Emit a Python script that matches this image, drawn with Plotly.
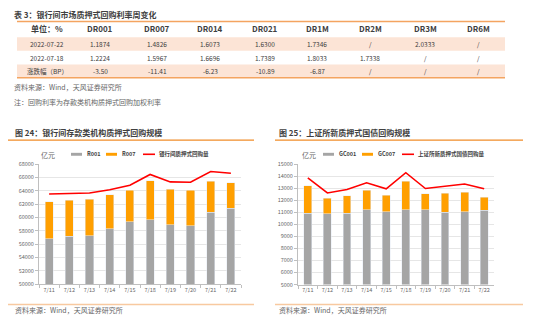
import plotly.graph_objects as go

W, H = 550, 332
FONT = "Noto Sans CJK SC"

# ---------------- table data ----------------
table_title = "表 3：银行间市场质押式回购利率周变化"
table_header = ["单位：%", "DR001", "DR007", "DR014", "DR021", "DR1M", "DR2M", "DR3M", "DR6M"]
row_0722 = ["2022-07-22", "1.1874", "1.4826", "1.6073", "1.6300", "1.7346", "/", "2.0333", "/"]
row_0718 = ["2022-07-18", "1.2224", "1.5967", "1.6696", "1.7389", "1.8033", "1.7338", "/", "/"]
row_change = ["涨跌幅（BP）", "-3.50", "-11.41", "-6.23", "-10.89", "-6.87", "/", "/", "/"]
source_text = "资料来源：Wind，天风证券研究所"
note_text = "注：回购利率为存款类机构质押式回购加权利率"

# ---------------- chart data ----------------
dates = ["7/11", "7/12", "7/13", "7/14", "7/15", "7/18", "7/19", "7/20", "7/21", "7/22"]

left_title = "图 24：银行间存款类机构质押式回购规模"
r001 = [56800, 57150, 57250, 58300, 59370, 59650, 58930, 58780, 60780, 61400]
r007 = [5540, 5390, 5480, 5070, 4730, 5810, 5310, 5270, 4640, 3770]
interbank_total = [63500, 63600, 63650, 64150, 64830, 66440, 65320, 65270, 66880, 66630]
left_ticks = [50000, 52000, 54000, 56000, 58000, 60000, 62000, 64000, 66000, 68000]

right_title = "图 25：上证所新质押式国债回购规模"
gc001 = [10900, 10870, 10920, 11200, 11040, 11200, 11190, 11000, 11030, 11160]
gc007 = [2280, 1280, 1450, 1630, 1380, 2360, 1330, 1570, 1620, 1090]
sse_total = [13850, 12600, 12890, 13440, 12940, 14280, 12970, 13160, 13350, 12950]
right_ticks = [5000, 6000, 7000, 8000, 9000, 10000, 11000, 12000, 13000, 14000, 15000]

GRAY = "#A5A5A5"
ORANGE = "#FF9F00"
RED = "#FF0000"
TXT = "#404040"
SUB = "#666666"


def px(x):
    return x / W


def py(y):
    return 1 - y / H


fig = go.Figure()

fig.add_trace(go.Bar(x=dates, y=r001, name="R001", marker_color=GRAY, xaxis="x", yaxis="y"))
fig.add_trace(go.Bar(x=dates, y=r007, name="R007", marker_color=ORANGE, xaxis="x", yaxis="y"))
fig.add_trace(go.Scatter(x=dates, y=interbank_total, name="银行间质押式回购量", mode="lines",
                         line=dict(color=RED, width=1.6), xaxis="x", yaxis="y"))
fig.add_trace(go.Bar(x=dates, y=gc001, name="GC001", marker_color=GRAY, xaxis="x2", yaxis="y2"))
fig.add_trace(go.Bar(x=dates, y=gc007, name="GC007", marker_color=ORANGE, xaxis="x2", yaxis="y2"))
fig.add_trace(go.Scatter(x=dates, y=sse_total, name="上证所新质押式国债回购量", mode="lines",
                         line=dict(color=RED, width=1.6), xaxis="x2", yaxis="y2"))

ann = []
shapes = []


def text(x, y, s, size, color, anchor="left"):
    ann.append(dict(xref="paper", yref="paper", x=px(x), y=py(y), text=s, showarrow=False,
                    xanchor=anchor, yanchor="middle", font=dict(size=size, color=color)))


def hline(x0, x1, y, color, width):
    shapes.append(dict(type="line", xref="paper", yref="paper", x0=px(x0), x1=px(x1),
                       y0=py(y), y1=py(y), line=dict(color=color, width=width)))


# ---------------- table ----------------
text(12, 11, "<b>" + table_title + "</b>", 8, TXT)
col_x = [47, 100, 157, 210, 265, 317, 370, 425, 478]
for (y0, y1) in [(34, 48), (62, 75)]:
    shapes.append(dict(type="rect", xref="paper", yref="paper", x0=px(17), x1=px(505),
                       y0=py(y1), y1=py(y0), fillcolor="#FCE4D6", line=dict(width=0), layer="below"))
hline(17, 505, 18, "#F4A460", 1.5)
hline(17, 505, 75.5, "#F4A460", 1.5)
for i, h in enumerate(table_header):
    text(col_x[i], 25, "<b>" + h + "</b>", 8, TXT, "center")
for row, yy in [(row_0722, 41), (row_0718, 55), (row_change, 68.5)]:
    for i, v in enumerate(row):
        text(col_x[i], yy, v, 6.5, TXT, "center")
text(12, 85, source_text, 7, SUB)
text(12, 100, note_text, 7, SUB)

# ---------------- chart frames ----------------
for (x0, x1, title, tx) in [(8, 254, left_title, 13), (275, 523, right_title, 277)]:
    text(tx, 132, "<b>" + title + "</b>", 8, TXT)
    hline(x0, x1, 139.5, "#F08C28", 1.2)
    hline(x0, x1, 308, "#F8C9A0", 1.5)
    text(tx, 314, source_text, 7, SUB)


# ---------------- manual legends ----------------
def legend(unit_x, items, y=154):
    text(unit_x, y + 1, "亿元", 7, SUB)
    for (sx, name, color, kind) in items:
        if kind == "bar":
            shapes.append(dict(type="rect", xref="paper", yref="paper", x0=px(sx), x1=px(sx + 11),
                               y0=py(y + 1.5), y1=py(y - 1.5), fillcolor=color, line=dict(width=0)))
        else:
            hline(sx, sx + 12, y, color, 1.6)
        text(sx + 13.5, y, "<b>" + name + "</b>", 5.5, TXT)


legend(39, [(71, "R001", GRAY, "bar"), (106, "R007", ORANGE, "bar"),
            (143, "银行间质押式回购量", RED, "line")])
legend(300, [(323, "GC001", GRAY, "bar"), (362, "GC007", ORANGE, "bar"),
             (402, "上证所新质押式国债回购量", RED, "line")])

axis_common_x = dict(type="category", showline=True, linecolor="#BFBFBF", linewidth=1,
                     ticks="outside", ticklen=3, tickcolor="#BFBFBF", tickson="boundaries",
                     tickangle=0, tickfont=dict(size=5.5, color=SUB), showgrid=False,
                     fixedrange=True)
axis_common_y = dict(showline=True, linecolor="#BFBFBF", linewidth=1, ticks="outside", ticklen=3,
                     tickcolor="#BFBFBF", tickfont=dict(size=5.5, color=SUB), showgrid=True,
                     gridcolor="#E6E6E6", gridwidth=1, zeroline=False, fixedrange=True)

fig.update_layout(
    width=W, height=H, margin=dict(l=0, r=0, t=0, b=0),
    paper_bgcolor="white", plot_bgcolor="white",
    font=dict(family=FONT, color=TXT),
    barmode="stack", bargap=0.6, showlegend=False,
    xaxis=dict(domain=[px(39), px(241)], anchor="y", **axis_common_x),
    yaxis=dict(domain=[py(287), py(164)], anchor="x", range=[50000, 68000],
               tickvals=left_ticks, ticktext=[str(v) for v in left_ticks], **axis_common_y),
    xaxis2=dict(domain=[px(298), px(494)], anchor="y2", **axis_common_x),
    yaxis2=dict(domain=[py(287.5), py(164)], anchor="x2", range=[5000, 15000],
                tickvals=right_ticks, ticktext=[str(v) for v in right_ticks], **axis_common_y),
    annotations=ann, shapes=shapes,
)

fig.write_html("out.html")
